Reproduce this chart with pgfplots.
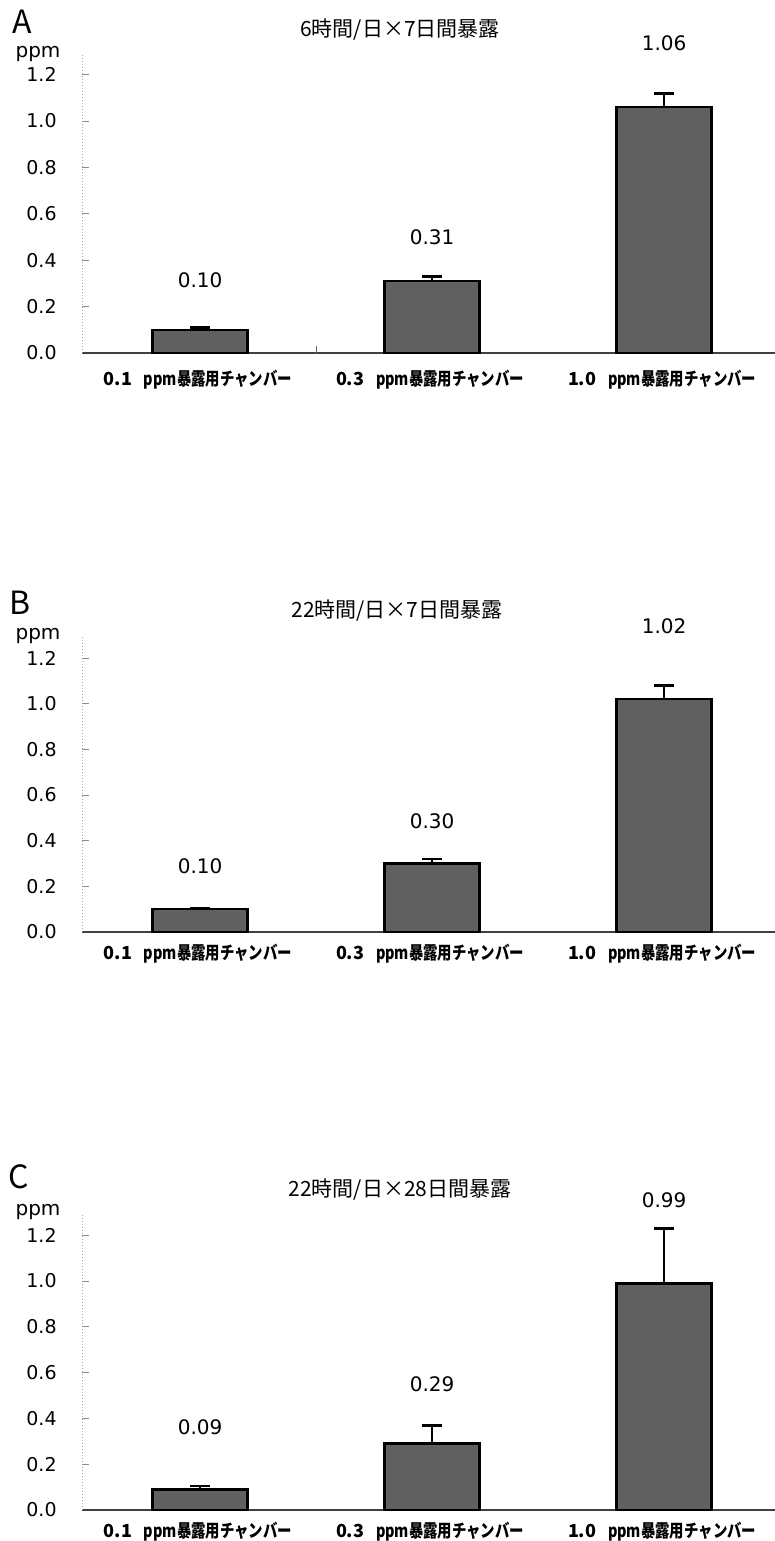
\documentclass[border=0pt]{standalone}
\usepackage{fontspec}
\usepackage{pgfplots}
\pgfplotsset{compat=1.18}
\setmainfont{DejaVu Sans}
\newfontfamily\jp{Noto Sans CJK JP}
\newfontfamily\catfont[FakeStretch=0.8]{Noto Sans CJK JP}
\definecolor{barfill}{HTML}{606060}
\newcommand{\cat}[1]{\makebox[20pt][l]{\jp\bfseries #1}ppm暴露用チャンバー}

\pgfplotsset{
 panel/.style={
   scale only axis, width=346.5pt, anchor=south west,
   xmin=-0.509, xmax=2.478, ymin=0, ymax=1.29,
   axis lines*=left,
   x axis line style={black!75, line width=0.6pt},
   y axis line style={black!35, densely dotted, line width=0.5pt},
   ytick={0,0.2,0.4,0.6,0.8,1.0,1.2},
   tick align=inside, major tick length=3.5pt,
   ytick style={black!45, line width=0.4pt},
   xtick={0,1,2}, xtick style={draw=none},
   xticklabels={\cat{0.1}, \cat{0.3}, \cat{1.0}},
   x tick label style={font=\catfont\bfseries\fontsize{9}{10}\selectfont, anchor=center, yshift=-11pt, xshift=-1pt},
   y tick label style={font=\fontsize{9.5}{11}\selectfont, anchor=east, inner sep=0pt, xshift=-12.5pt},
   yticklabel style={/pgf/number format/.cd, fixed, fixed zerofill, precision=1},
   /pgf/number format/assume math mode=true,
   clip=false,
 },
 bars/.style={ybar, bar width=47.5pt, bar shift=0pt, fill=barfill, draw=black, line width=1.3pt,
   error bars/.cd, y dir=plus, y explicit,
   error bar style={black, line width=1.3pt},
   error mark options={rotate=90, mark size=5pt, line width=1.3pt, black}},
 vals/.style={draw=none, mark=none, nodes near coords, point meta=explicit symbolic,
   every node near coord/.style={anchor=center, font=\fontsize{10}{12}\selectfont, black}},
}

\begin{document}
\begin{tikzpicture}
\path[use as bounding box] (0,0) rectangle (387.5pt,-770.5pt);

% Panel A
\node[font=\jp\fontsize{16}{18}\selectfont] at (11pt,-11pt) {A};
\node[font=\fontsize{10}{12}\selectfont] at (19pt,-27pt) {ppm};
\node[font=\jp\fontsize{10.5}{12}\selectfont] at (200pt,-15pt) {6時間/日×7日間暴露};
\begin{axis}[panel, at={(41pt,-176.5pt)}, height=149.6pt,
  x tick label style={yshift=-2.5pt},
  extra x ticks={0.5}, extra x tick labels={}, extra x tick style={xtick style={draw=black!60, line width=0.4pt}}]
\addplot[bars] coordinates {(0,0.10) +- (0,0.01) (1,0.31) +- (0,0.02) (2,1.06) +- (0,0.06)};
\addplot[vals] table[meta=l] {
x y l
0 0.315 0.10
1 0.50 0.31
2 1.336 1.06
};
\end{axis}

% Panel B
\node[font=\jp\fontsize{16}{18}\selectfont] at (10pt,-301.5pt) {B};
\node[font=\fontsize{10}{12}\selectfont] at (19pt,-318pt) {ppm};
\node[font=\jp\fontsize{10.5}{12}\selectfont] at (198.5pt,-305.5pt) {22時間/日×7日間暴露};
\begin{axis}[panel, at={(41pt,-466pt)}, height=147.3pt]
\addplot[bars] coordinates {(0,0.10) +- (0,0.005) (1,0.30) +- (0,0.02) (2,1.02) +- (0,0.06)};
\addplot[vals] table[meta=l] {
x y l
0 0.29 0.10
1 0.486 0.30
2 1.34 1.02
};
\end{axis}

% Panel C
\node[font=\jp\fontsize{16}{18}\selectfont] at (9.5pt,-588.5pt) {C};
\node[font=\fontsize{10}{12}\selectfont] at (19pt,-606pt) {ppm};
\node[font=\jp\fontsize{10.5}{12}\selectfont] at (200pt,-595pt) {22時間/日×28日間暴露};
\begin{axis}[panel, at={(41pt,-755pt)}, height=147.7pt]
\addplot[bars] coordinates {(0,0.09) +- (0,0.015) (1,0.29) +- (0,0.08) (2,0.99) +- (0,0.24)};
\addplot[vals] table[meta=l] {
x y l
0 0.36 0.09
1 0.55 0.29
2 1.354 0.99
};
\end{axis}
\end{tikzpicture}
\end{document}
